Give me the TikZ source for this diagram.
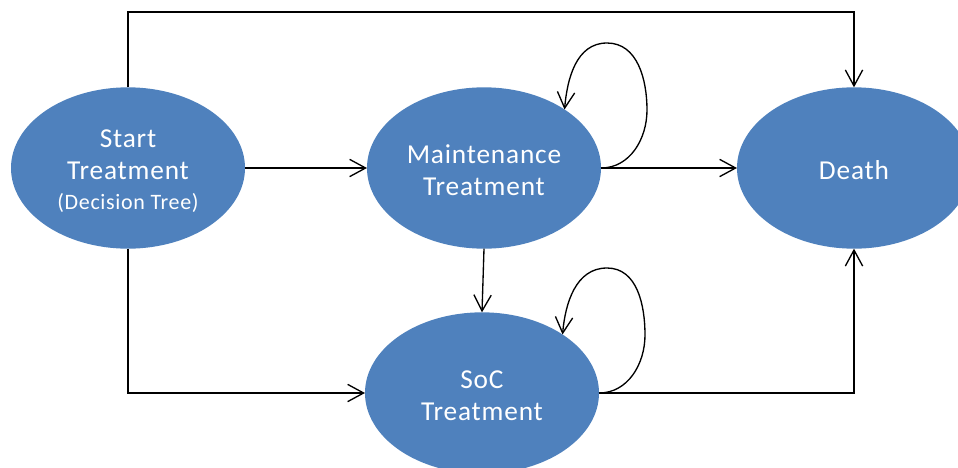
\documentclass[tikz,border=0pt]{standalone}
\usepackage{fontspec}
\setmainfont{Carlito}[LetterSpace=3]
\usetikzlibrary{arrows.meta,shapes.geometric}
\definecolor{stateblue}{HTML}{4F81BD}
\begin{document}
\begin{tikzpicture}[x=0.75pt,y=-0.75pt,
  state/.style={ellipse, fill=stateblue, text=white, minimum width=175.5pt,
    minimum height=121pt, inner sep=0pt, outer sep=0pt, align=center,
    font=\fontsize{20.5}{24}\selectfont},
  link/.style={draw=black, line width=1pt, line join=miter,
    -{Straight Barb[length=12pt,width=13pt,line width=1pt]}}]
\useasboundingbox (0,0) rectangle (958,468);

% states
\node[state] (st) at (128,168) {\rule{0pt}{18pt}Start\\Treatment\\[-2pt]{\fontsize{16.5}{20}\selectfont (Decision Tree)}};
\node[state] (mt) at (484,168) {\rule{0pt}{17pt}Maintenance\\Treatment};
\node[state] (dt) at (854,168) {\rule{0pt}{17pt}Death};
\node[state] (sc) at (482,393) {\rule{0pt}{17pt}SoC\\Treatment};

% helper points for the routed connectors and loops
\coordinate (topy) at (0,12);
\coordinate (mloopR) at (647,110);
\coordinate (mloopT) at (607,43);
\coordinate (sloopR) at (645,335);
\coordinate (sloopT) at (607,268);

% transitions
\draw[link] (st.north) -- (st.north |- topy) -| (dt.north);
\draw[link] (st.east) -- (mt.west);
\draw[link] (mt.east) -- (dt.west);
\draw[link] (mt.south) -- (sc.north);
\draw[link] (st.south) |- (sc.west);
\draw[link] (sc.east) -| (dt.south);

% self loops
\draw[link] (mt.east) to[out=0,in=-90] (mloopR) to[out=90,in=0] (mloopT) to[out=180,in=85] (mt.36);
\draw[link] (sc.east) to[out=0,in=-90] (sloopR) to[out=90,in=0] (sloopT) to[out=180,in=85] (sc.36);
\end{tikzpicture}
\end{document}
